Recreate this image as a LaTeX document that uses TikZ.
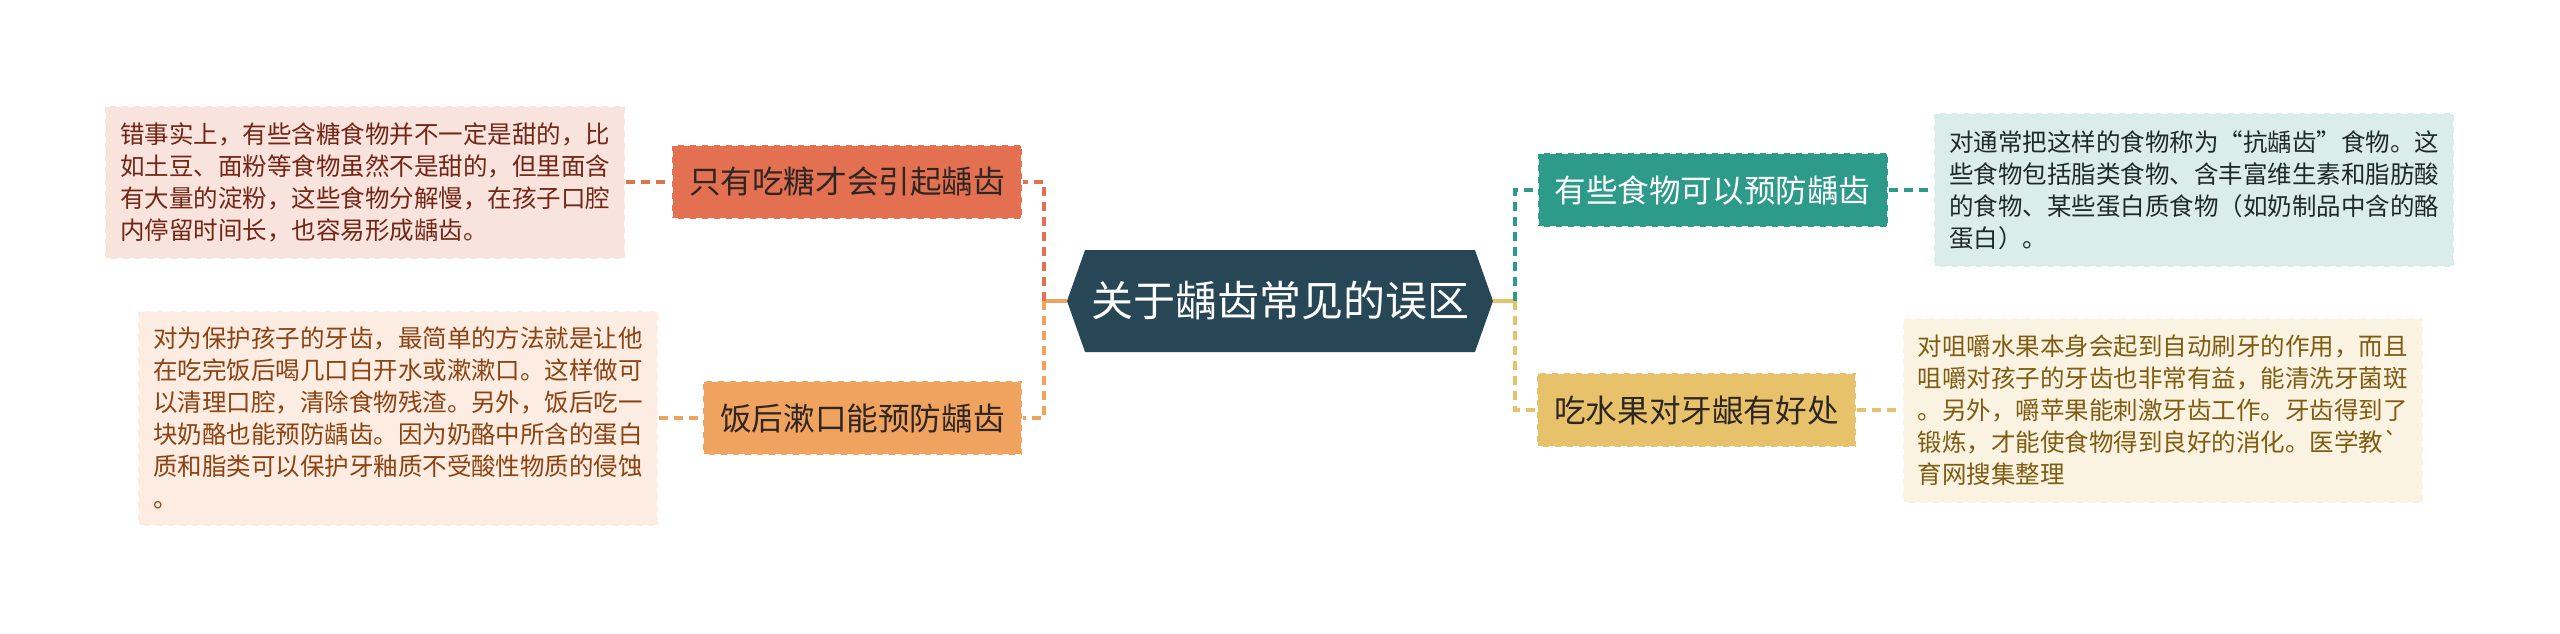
\documentclass[tikz,border=0pt]{standalone}
\usepackage{fontspec}
\setmainfont{Noto Sans CJK SC}
\usetikzlibrary{shapes.symbols}
\definecolor{MmNavy}{RGB}{39,71,87}
\definecolor{MmRed}{RGB}{228,112,82}
\definecolor{MmRedNote}{RGB}{249,227,221}
\definecolor{MmRedText}{RGB}{115,38,22}
\definecolor{MmOrange}{RGB}{240,162,95}
\definecolor{MmOrangeNote}{RGB}{253,236,225}
\definecolor{MmOrangeText}{RGB}{140,66,18}
\definecolor{MmTeal}{RGB}{46,155,138}
\definecolor{MmTealNote}{RGB}{219,237,235}
\definecolor{MmTealText}{RGB}{30,42,42}
\definecolor{MmYellow}{RGB}{232,194,106}
\definecolor{MmYellowNote}{RGB}{250,243,226}
\definecolor{MmYellowText}{RGB}{128,92,18}
\definecolor{MmInk}{RGB}{45,38,35}
\tikzset{
  mm/root/.style={
    signal,
    signal to=west and east,
    signal pointer angle=141,
    fill=MmNavy,
    text=white,
    minimum width=213pt,
    minimum height=51pt,
    inner sep=0pt,
    font=\fontsize{21}{25}\selectfont
  },
  mm/topic/.style={
    rectangle,
    draw=white,
    dashed,
    line width=1pt,
    minimum height=37pt,
    inner xsep=8.5pt,
    inner ysep=0pt,
    text=MmInk,
    font=\fontsize{15.8}{19}\selectfont
  },
  mm/note/.style={
    rectangle,
    draw=white,
    dashed,
    line width=1pt,
    align=left,
    minimum width=260pt,
    inner xsep=0pt,
    inner ysep=0pt,
    font=\fontsize{12.25}{16}\selectfont
  },
  mm/solid/.style={line width=1.8pt},
  mm/dash/.style={line width=1.8pt, dash pattern=on 4.5pt off 3pt}
}
\begin{document}
\begin{tikzpicture}[x=0.5pt,y=-0.5pt]
  \fill[white] (0,0) rectangle (2560,633);
  \useasboundingbox (0,0) rectangle (2560,633);
  % centre
  \node[mm/root] (root) at (1280,301) {关于龋齿常见的误区};
  \coordinate (lj) at (1044,301);
  \coordinate (rj) at (1515,301);
  % left branches
  \node[mm/topic,fill=MmRed] (sugar) at (847,182) {只有吃糖才会引起龋齿};
  \node[mm/topic,fill=MmOrange] (rinse) at (862.5,418) {饭后漱口能预防龋齿};
  \node[mm/note,fill=MmRedNote,text=MmRedText,minimum height=76.5pt] (sugarnote) at (365,182)
    {错事实上，有些含糖食物并不一定是甜的，比\\如土豆、面粉等食物虽然不是甜的，但里面含\\有大量的淀粉，这些食物分解慢，在孩子口腔\\内停留时间长，也容易形成龋齿。};
  \node[mm/note,fill=MmOrangeNote,text=MmOrangeText,minimum height=107.5pt] (rinsenote) at (398,418)
    {对为保护孩子的牙齿，最简单的方法就是让他\\在吃完饭后喝几口白开水或漱漱口。这样做可\\以清理口腔，清除食物残渣。另外，饭后吃一\\块奶酪也能预防龋齿。因为奶酪中所含的蛋白\\质和脂类可以保护牙釉质不受酸性物质的侵蚀\\。};
  % right branches
  \node[mm/topic,fill=MmTeal,text=white] (food) at (1712.5,190) {有些食物可以预防龋齿};
  \node[mm/topic,fill=MmYellow] (fruit) at (1696.5,410) {吃水果对牙龈有好处};
  \node[mm/note,fill=MmTealNote,text=MmTealText,minimum height=77pt] (foodnote) at (2194,190)
    {对通常把这样的食物称为“抗龋齿”食物。这\\些食物包括脂类食物、含丰富维生素和脂肪酸\\的食物、某些蛋白质食物（如奶制品中含的酪\\蛋白）。};
  \node[mm/note,fill=MmYellowNote,text=MmYellowText,minimum height=92.5pt] (fruitnote) at (2162.5,410)
    {对咀嚼水果本身会起到自动刷牙的作用，而且\\咀嚼对孩子的牙齿也非常有益，能清洗牙菌斑\\。另外，嚼苹果能刺激牙齿工作。牙齿得到了\\锻炼，才能使食物得到良好的消化。医学教\textasciigrave\\育网搜集整理};
  % connectors
  \draw[mm/solid,MmOrange] (root.west) -- (lj);
  \draw[mm/dash,MmRed] (lj) |- (sugar.east);
  \draw[mm/dash,MmOrange] (lj) |- (rinse.east);
  \draw[mm/solid,MmYellow] (root.east) -- (rj);
  \draw[mm/dash,MmTeal] (rj) |- (food.west);
  \draw[mm/dash,MmYellow] (rj) |- (fruit.west);
  \draw[mm/dash,MmRed] (sugarnote.east) -- (sugar.west);
  \draw[mm/dash,MmOrange] (rinsenote.east) -- (rinse.west);
  \draw[mm/dash,MmTeal] (food.east) -- (foodnote.west);
  \draw[mm/dash,MmYellow] (fruit.east) -- (fruitnote.west);
\end{tikzpicture}
\end{document}
